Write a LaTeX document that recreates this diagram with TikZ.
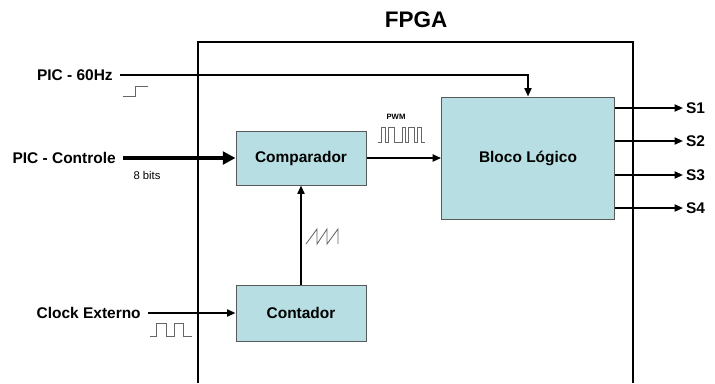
\documentclass[tikz,border=0pt]{standalone}
\usepackage{fontspec}
\setmainfont{Liberation Sans}
\usetikzlibrary{positioning, arrows.meta, calc}
\definecolor{blococor}{HTML}{B7DFE3}

\begin{document}
\begin{tikzpicture}[
    x=0.025cm, y=-0.025cm,
    block/.style={rectangle, draw=black!65, fill=blococor, align=center, font=\fontsize{11}{13}\selectfont\bfseries},
    lbl/.style={font=\fontsize{11}{13}\selectfont\bfseries, inner sep=2pt},
    inlbl/.style={lbl, anchor=east, inner xsep=5pt},
    arrow/.style={-{Triangle[length=6pt,width=5pt]}, line width=1.3pt},
    bigarrow/.style={-{Triangle[length=9pt,width=9pt]}, line width=2.6pt},
    wave/.style={draw=black!60, line width=0.6pt}
]
    \useasboundingbox (0,0) rectangle (715,383);

    % FPGA
    \draw[line width=1.4pt] (198,383) |- (633,41.7) -- (633,383);
    \node[font=\fontsize{16}{18}\selectfont\bfseries] (fpga) at (416,20) {FPGA};

    % blocos
    \node[block, minimum width=3.26cm, minimum height=1.36cm] (comp) at (301,158) {Comparador};
    \node[block, minimum width=3.26cm, minimum height=1.39cm] (cont) at (301,313) {Contador};
    \node[block, minimum width=4.33cm, minimum height=3.06cm] (bloco) at (528,158) {Bloco Lógico};

    % entradas
    \node[inlbl] (pic60) at (120,75) {PIC - 60Hz};
    \node[inlbl] (picctl) at (123,158) {PIC - Controle};
    \node[inlbl] (clk) at (148,313) {Clock Externo};
    \node[font=\fontsize{8}{9}\selectfont] (bits) at (147,175) {8 bits};
    \node[font=\fontsize{5.5}{6}\selectfont\bfseries] (pwm) at (396,117) {PWM};

    % saidas
    \node[lbl, anchor=west] (s1) at (683,108) {S1};
    \node[lbl, anchor=west] (s2) at (683,141) {S2};
    \node[lbl, anchor=west] (s3) at (683,175) {S3};
    \node[lbl, anchor=west] (s4) at (683,208) {S4};

    \draw[arrow] (pic60.east) -| (bloco.north);
    \draw[bigarrow] (picctl.east) -- (comp.west);
    \draw[arrow] (clk.east) -- (cont.west);
    \draw[arrow] (comp.east) -- (bloco.west);
    \draw[arrow] (cont.north) -- (comp.south);
    \foreach \s in {s1,s2,s3,s4}
        \draw[arrow] (bloco.east |- \s) -- (\s.west);

    % formas de onda
    \draw[wave] (123,96) -- (135,96) -- (135,86) -- (148,86);
    \draw[wave] (150,336) -- (156,336) -- (156,323) -- (166,323) -- (166,336) -- (174,336)
        -- (174,323) -- (183,323) -- (183,336) -- (192,336);
    \draw[wave] (306,244) -- (317,229) -- (317,244) -- (327,229) -- (327,244) -- (338,229) -- (338,244);
    \draw[wave] (378,142) -- (381,142) -- (381,127) -- (385,127) -- (385,142) -- (388,142)
        -- (388,127) -- (394,127) -- (394,142) -- (402,142) -- (402,127) -- (405,127)
        -- (405,142) -- (408,142) -- (408,127) -- (414,127) -- (414,142) -- (417,142)
        -- (417,127) -- (421,127) -- (421,142) -- (425,142);
\end{tikzpicture}
\end{document}
